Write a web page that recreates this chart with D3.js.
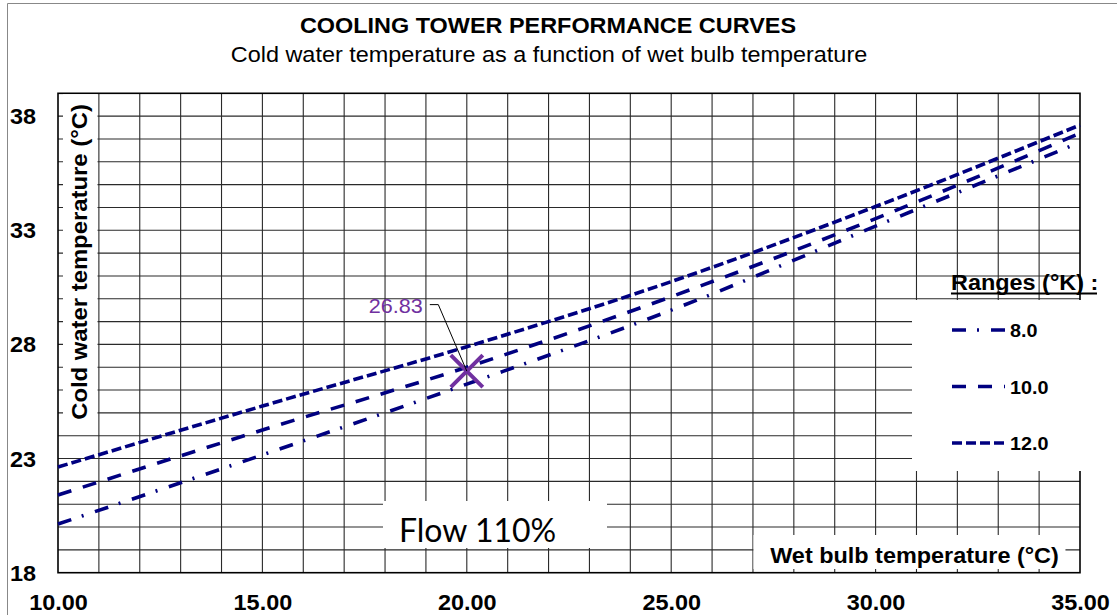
<!DOCTYPE html>
<html>
<head>
<meta charset="utf-8">
<script src="https://cdn.jsdelivr.net/npm/d3@7"></script>
<style>
  body { margin: 0; background: #fff; }
  svg { display: block; }
  text { font-family: "Liberation Sans", Arial, sans-serif; }
</style>
</head>
<body>
<div id="chart"></div>
<script>
// 1. DATOS
const wetBulb = [10, 15, 20, 25, 30, 35];
const range8  = [20.13, 23.16, 26.26, 29.50, 33.18, 36.85];
const range10 = [21.40, 24.25, 27.00, 30.09, 33.51, 37.25];
const range12 = [22.63, 25.30, 27.90, 30.75, 34.04, 37.61];
const rangeNames = ["8.0", "10.0", "12.0"];
const xTicks = [10, 15, 20, 25, 30, 35];
const yTicks = [18, 23, 28, 33, 38];
const pointX = 20, pointY = 26.83;

const series = [
    { name: rangeNames[0], values: range8,  dash: "14,11,2,12" },
    { name: rangeNames[1], values: range10, dash: "14,12" },
    { name: rangeNames[2], values: range12, dash: "10,4" }
];

const W = 1117, H = 615;
const plotL = 58, plotR = 1080, plotT = 93.3, plotB = 572.7;
const navy = "#000080", purple = "#7030A0";

const svg = d3.select("#chart").append("svg")
    .attr("width", W).attr("height", H);

const x = d3.scaleLinear().domain([10, 35]).range([plotL, plotR]);
const y = d3.scaleLinear().domain([18, 39]).range([plotB, plotT]);

// texto algo ensanchado, como en la imagen original
function addText(parent, px, py, str, o) {
    let tr = `translate(${px},${py})`;
    if (o.rot) tr += ` rotate(${o.rot})`;
    tr += ` scale(${o.sx || 1.1},1)`;
    return parent.append("text")
        .attr("transform", tr)
        .attr("text-anchor", o.anchor || "start")
        .attr("font-size", o.size || 21.3)
        .attr("font-weight", o.weight || "normal")
        .attr("fill", o.fill || "#000")
        .style("font-family", o.family || null)
        .text(str);
}

// marco exterior
svg.append("path").attr("d", `M7.5,${H} V3.5 H${W}`)
    .attr("fill", "none").attr("stroke", "#888").attr("stroke-width", 1);

// 2. TÍTULOS
addText(svg, 548, 33, "COOLING TOWER PERFORMANCE CURVES", { anchor: "middle", weight: "bold" });
addText(svg, 549, 61.5, "Cold water temperature as a function of wet bulb temperature", { anchor: "middle" });

// 3. REJILLA
const grid = svg.append("g").attr("stroke", "#2a2a2a").attr("stroke-width", 1.1);
grid.selectAll(".vg").data(d3.range(11, 35)).join("line")
    .attr("x1", d => x(d)).attr("x2", d => x(d))
    .attr("y1", y(39)).attr("y2", y(18));
grid.selectAll(".hg").data(d3.range(19, 39)).join("line")
    .attr("x1", x(10)).attr("x2", x(35))
    .attr("y1", d => y(d)).attr("y2", d => y(d));

// borde del área
svg.append("rect")
    .attr("x", plotL).attr("y", plotT)
    .attr("width", plotR - plotL).attr("height", plotB - plotT)
    .attr("fill", "none").attr("stroke", "#000").attr("stroke-width", 1.6);

// 4. EJES
const xAxis = svg.append("g")
    .attr("transform", `translate(0,${plotB})`)
    .call(d3.axisBottom(x).tickValues(xTicks).tickSize(0).tickFormat(d3.format(".2f")));
xAxis.select(".domain").remove();
xAxis.selectAll("text")
    .attr("y", 37).attr("dy", 0)
    .attr("transform", "scale(1.1,1)")
    .attr("font-size", 21.3).attr("font-weight", "bold")
    .attr("fill", "#000")
    .style("font-family", "'Liberation Sans', Arial, sans-serif");

const yAxis = svg.append("g")
    .attr("transform", `translate(${plotL},0)`)
    .call(d3.axisLeft(y).tickValues(yTicks).tickSize(0).tickFormat(d3.format("d")));
yAxis.select(".domain").remove();
yAxis.selectAll("text")
    .attr("x", -35).attr("dy", "0.35em")
    .attr("text-anchor", "middle")
    .attr("transform", "scale(1.1,1) translate(3.2,0)")
    .attr("font-size", 21.3).attr("font-weight", "bold")
    .attr("fill", "#000")
    .style("font-family", "'Liberation Sans', Arial, sans-serif");

// 5. CURVAS
const line = d3.line()
    .x((d, i) => x(wetBulb[i]))
    .y(d => y(d))
    .curve(d3.curveMonotoneX);

svg.append("g").selectAll("path").data(series).join("path")
    .attr("d", d => line(d.values))
    .attr("fill", "none")
    .attr("stroke", navy)
    .attr("stroke-width", 3.6)
    .attr("stroke-dasharray", d => d.dash);

// 6. CAJAS BLANCAS Y RÓTULOS
// título eje Y
svg.append("rect").attr("x", 63).attr("y", plotT + 1).attr("width", 34.5).attr("height", 331).attr("fill", "#fff");
addText(svg, 87, 262, "Cold water temperature (°C)", { anchor: "middle", weight: "bold", rot: -90, sx: 1.12 });

// título eje X
svg.append("rect").attr("x", x(27) + 0.5).attr("y", 535).attr("width", 312).attr("height", 34).attr("fill", "#fff");
addText(svg, 914.5, 563, "Wet bulb temperature (°C)", { anchor: "middle", weight: "bold" });

// caudal
svg.append("rect").attr("x", 383).attr("y", 501).attr("width", 224).attr("height", 47).attr("fill", "#fff");
addText(svg, 399, 542, "Flow 110%", { size: 33, sx: 0.97, family: "Lato, 'Open Sans', sans-serif" });

// leyenda
svg.append("rect").attr("x", 912).attr("y", 300).attr("width", 200).attr("height", 171).attr("fill", "#fff");
addText(svg, 951, 290, "Ranges (°K) :", { weight: "bold" });
svg.append("line").attr("x1", 951).attr("x2", 1097).attr("y1", 293.5).attr("y2", 293.5)
    .attr("stroke", "#000").attr("stroke-width", 1.8);

const legendY = d3.scalePoint().domain(rangeNames).range([330, 443]);
const leg = svg.append("g").selectAll("g").data(series).join("g")
    .attr("transform", d => `translate(0,${legendY(d.name)})`);
leg.append("line")
    .attr("x1", 952).attr("x2", 1005)
    .attr("stroke", navy).attr("stroke-width", 3.6)
    .attr("stroke-dasharray", d => d.dash);
leg.each(function(d) {
    addText(d3.select(this), 1010, 7.3, d.name, { size: 18.7, weight: "bold", sx: 1.06 });
});

// 7. PUNTO DE TRABAJO
const px = x(pointX), py = y(pointY);
svg.append("path")
    .attr("d", `M${px - 16},${py - 16} L${px + 16},${py + 16} M${px - 16},${py + 16} L${px + 16},${py - 16}`)
    .attr("stroke", purple).attr("stroke-width", 4).attr("fill", "none");
svg.append("path")
    .attr("d", `M${px},${py} L${px - 28.5},${py - 66.5} H${px - 37}`)
    .attr("stroke", "#000").attr("stroke-width", 1).attr("fill", "none");
addText(svg, px - 44, py - 58, pointY.toFixed(2), { anchor: "end", size: 20, sx: 1.08, fill: purple });
</script>
</body>
</html>
